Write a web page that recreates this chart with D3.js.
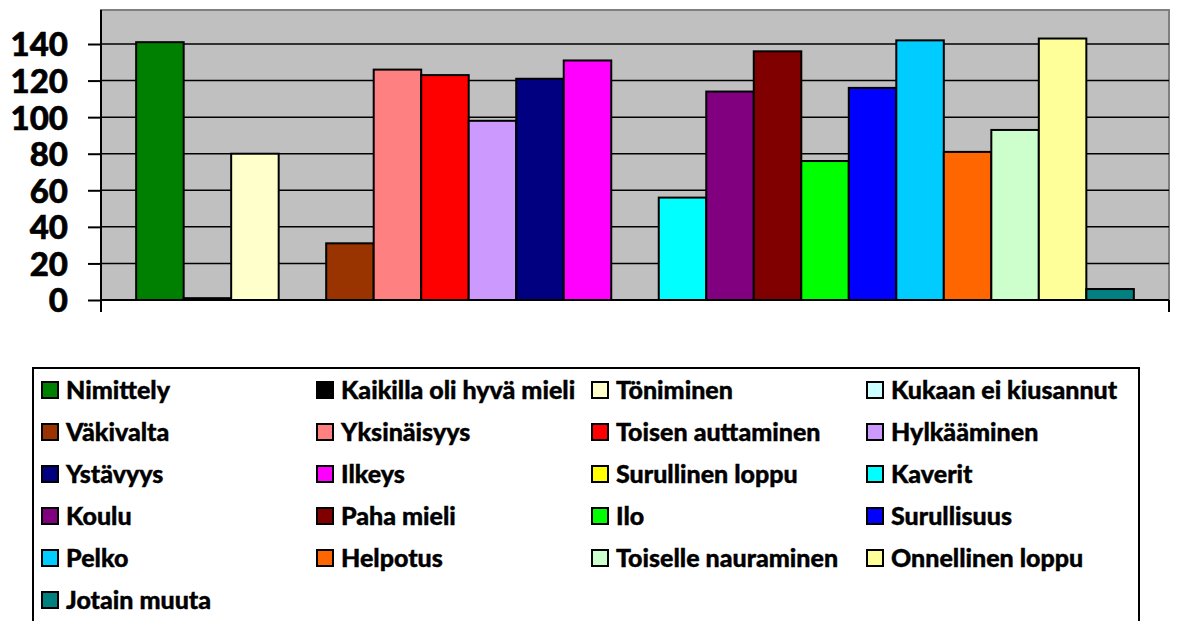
<!DOCTYPE html>
<html>
<head>
<meta charset="utf-8">
<script src="https://cdn.jsdelivr.net/npm/d3@7"></script>
<style>
  body { margin: 0; background: #fff; }
  svg { display: block; font-family: Lato, "Noto Sans", sans-serif; font-weight: bold; }
</style>
</head>
<body>
<div id="chart"></div>
<script>
// Series (one bar each, single category)
const seriesNames = [
  "Nimittely", "Kaikilla oli hyvä mieli", "Töniminen", "Kukaan ei kiusannut",
  "Väkivalta", "Yksinäisyys", "Toisen auttaminen", "Hylkääminen",
  "Ystävyys", "Ilkeys", "Surullinen loppu", "Kaverit",
  "Koulu", "Paha mieli", "Ilo", "Surullisuus",
  "Pelko", "Helpotus", "Toiselle nauraminen", "Onnellinen loppu",
  "Jotain muuta"
];
const seriesValues = [141, 1, 80, 0, 31, 126, 123, 98, 121, 131, 0, 56, 114, 136, 76, 116, 142, 81, 93, 143, 6];
const seriesColors = [
  "#008000", "#000000", "#FFFFCC", "#CCFFFF",
  "#993300", "#FF8080", "#FF0000", "#CC99FF",
  "#000080", "#FF00FF", "#FFFF00", "#00FFFF",
  "#800080", "#800000", "#00FF00", "#0000FF",
  "#00CCFF", "#FF6600", "#CCFFCC", "#FFFF99",
  "#008080"
];
const yTicks = [0, 20, 40, 60, 80, 100, 120, 140];

const width = 1178, height = 621;
const plot = { left: 101, right: 1169, top: 10, bottom: 300 };

const svg = d3.select("#chart").append("svg")
  .attr("width", width)
  .attr("height", height);

const x = d3.scaleBand()
  .domain(seriesNames)
  .range([plot.left, plot.right])
  .paddingInner(0)
  .paddingOuter(0.74);

const y = d3.scaleLinear()
  .domain([0, 158.6])
  .range([plot.bottom, plot.top]);

// plot area background
svg.append("rect")
  .attr("x", plot.left)
  .attr("y", plot.top)
  .attr("width", plot.right - plot.left)
  .attr("height", plot.bottom - plot.top)
  .attr("fill", "#c0c0c0")
  .attr("stroke", "#808080")
  .attr("stroke-width", 2);

// gridlines
svg.append("g")
  .selectAll("line")
  .data(yTicks.filter(d => d > 0))
  .join("line")
  .attr("x1", plot.left)
  .attr("x2", plot.right)
  .attr("y1", d => y(d))
  .attr("y2", d => y(d))
  .attr("stroke", "#000")
  .attr("stroke-width", 1.5);

// bars
svg.append("g")
  .selectAll("rect")
  .data(seriesNames.map((n, i) => ({ name: n, value: seriesValues[i], color: seriesColors[i] })))
  .join("rect")
  .attr("x", d => x(d.name))
  .attr("y", d => y(d.value))
  .attr("width", x.bandwidth())
  .attr("height", d => y(0) - y(d.value))
  .attr("fill", d => d.color)
  .attr("stroke", "#000")
  .attr("stroke-width", 2);

// y axis
const yAxis = svg.append("g")
  .attr("transform", `translate(${plot.left},0)`)
  .call(d3.axisLeft(y).tickValues(yTicks).tickSize(13).tickPadding(20));
yAxis.select(".domain").remove();
yAxis.selectAll(".tick line").attr("stroke", "#000").attr("stroke-width", 2);
yAxis.selectAll(".tick text")
  .attr("font-size", 33)
  .attr("font-family", "Lato, sans-serif")
  .attr("font-weight", "900")
  .attr("fill", "#000")
  .attr("stroke", "#000")
  .attr("stroke-width", 0.6)
  .attr("dy", "0.36em");

svg.append("line")
  .attr("x1", plot.left).attr("x2", plot.left)
  .attr("y1", plot.top).attr("y2", plot.bottom + 12)
  .attr("stroke", "#000").attr("stroke-width", 2);

// x axis
svg.append("line")
  .attr("x1", plot.left).attr("x2", plot.right)
  .attr("y1", plot.bottom).attr("y2", plot.bottom)
  .attr("stroke", "#000").attr("stroke-width", 2);
svg.append("line")
  .attr("x1", plot.right).attr("x2", plot.right)
  .attr("y1", plot.bottom).attr("y2", plot.bottom + 12)
  .attr("stroke", "#000").attr("stroke-width", 2);

// legend
const legend = { left: 33, top: 368, right: 1139, col: 275, row: 42, cols: 4 };
svg.append("rect")
  .attr("x", legend.left)
  .attr("y", legend.top)
  .attr("width", legend.right - legend.left)
  .attr("height", 300)
  .attr("fill", "#fff")
  .attr("stroke", "#000")
  .attr("stroke-width", 2);

const items = svg.append("g")
  .selectAll("g")
  .data(seriesNames.map((n, i) => ({ name: n, color: seriesColors[i], i })))
  .join("g")
  .attr("transform", d => `translate(${legend.left + 9 + (d.i % legend.cols) * legend.col},${legend.top + 22 + Math.floor(d.i / legend.cols) * legend.row})`);

items.append("rect")
  .attr("x", 0).attr("y", -8)
  .attr("width", 16).attr("height", 16)
  .attr("fill", d => d.color)
  .attr("stroke", "#000")
  .attr("stroke-width", 2);

items.append("text")
  .attr("x", 24)
  .attr("y", 0)
  .attr("dy", "0.35em")
  .attr("font-size", 25)
  .attr("font-weight", "900")
  .attr("fill", "#000")
  .attr("stroke", "#000")
  .attr("stroke-width", 0.4)
  .text(d => d.name);
</script>
</body>
</html>
